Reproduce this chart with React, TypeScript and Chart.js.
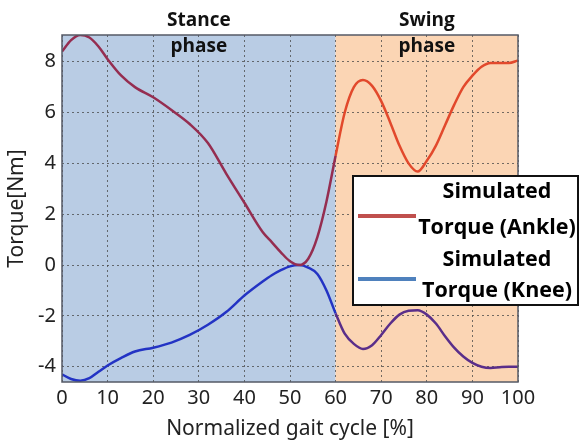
import React, { useEffect, useRef } from "react";
import { Chart, registerables } from "chart.js";

Chart.register(...registerables);

const gaitCycle = [0, 2, 4, 6, 8, 10, 13, 16, 20, 24, 28, 32, 36, 40, 44, 46, 48, 50, 52, 54, 56, 58, 60, 62, 64, 66, 68, 70, 72, 74, 76, 78, 80, 82, 84, 86, 88, 90, 92, 94, 96, 98, 100];
const ankleTorque = [8.4, 8.85, 9.05, 8.95, 8.6, 8.1, 7.45, 7.0, 6.6, 6.1, 5.55, 4.8, 3.6, 2.45, 1.3, 0.9, 0.5, 0.15, 0.0, 0.25, 1.1, 2.5, 4.3, 6.0, 7.0, 7.28, 7.05, 6.45, 5.6, 4.7, 4.0, 3.68, 4.1, 4.7, 5.5, 6.3, 7.0, 7.45, 7.8, 7.95, 7.95, 7.95, 8.05];
const kneeTorque = [-4.3, -4.48, -4.55, -4.45, -4.2, -3.95, -3.65, -3.4, -3.25, -3.05, -2.75, -2.35, -1.85, -1.2, -0.65, -0.4, -0.2, -0.05, 0.0, -0.1, -0.35, -1.0, -1.9, -2.7, -3.1, -3.3, -3.15, -2.75, -2.3, -1.95, -1.8, -1.78, -1.95, -2.3, -2.8, -3.25, -3.6, -3.85, -4.0, -4.05, -4.02, -4.0, -4.0];

const xTicks = [0, 10, 20, 30, 40, 50, 60, 70, 80, 90, 100];
const yTicks = [-4, -2, 0, 2, 4, 6, 8];
const phaseBoundary = 60;
const phaseLabels = [
  { from: 0, to: 60, lines: ["Stance", "phase"], color: "#b9cce4" },
  { from: 60, to: 100, lines: ["Swing", "phase"], color: "#fbd5b4" },
];
const legendItems = [
  { lines: ["Simulated", "Torque (Ankle)"], color: "#c0504d" },
  { lines: ["Simulated", "Torque (Knee)"], color: "#4f81bd" },
];

const FONT_AXIS = "'Noto Sans', sans-serif";
const FONT_BOLD = "'Open Sans', sans-serif";

const phasePlugin = {
  id: "phaseBg",
  beforeDraw(chart: any) {
    const { ctx, chartArea, scales } = chart;
    ctx.save();
    for (const p of phaseLabels) {
      const x0 = scales.x.getPixelForValue(p.from);
      const x1 = scales.x.getPixelForValue(p.to);
      ctx.fillStyle = p.color;
      ctx.fillRect(x0, chartArea.top, x1 - x0, chartArea.bottom - chartArea.top);
    }
    ctx.restore();
  },
  afterDatasetsDraw(chart: any) {
    const { ctx, chartArea } = chart;
    ctx.save();
    ctx.strokeStyle = "#555a66";
    ctx.lineWidth = 1.5;
    ctx.strokeRect(chartArea.left, chartArea.top, chartArea.right - chartArea.left, chartArea.bottom - chartArea.top);
    ctx.restore();
  },
  afterDraw(chart: any) {
    const { ctx, scales } = chart;
    ctx.save();
    ctx.fillStyle = "#111";
    ctx.font = `bold 19px ${FONT_BOLD}`;
    ctx.textAlign = "center";
    ctx.textBaseline = "middle";
    for (const p of phaseLabels) {
      const cx = scales.x.getPixelForValue((p.from + p.to) / 2);
      ctx.fillText(p.lines[0], cx, 21);
      ctx.fillText(p.lines[1], cx, 47);
    }
    const bx = 353, by = 176, bw = 225, bh = 129;
    ctx.fillStyle = "#fff";
    ctx.fillRect(bx, by, bw, bh);
    ctx.strokeStyle = "#111";
    ctx.lineWidth = 2;
    ctx.strokeRect(bx, by, bw, bh);
    const rows = [
      { ys: [192, 228], lineY: 216 },
      { ys: [260, 291], lineY: 279 },
    ];
    legendItems.forEach((item, i) => {
      ctx.strokeStyle = item.color;
      ctx.lineWidth = 4;
      ctx.beginPath();
      ctx.moveTo(358, rows[i].lineY);
      ctx.lineTo(416, rows[i].lineY);
      ctx.stroke();
      ctx.fillStyle = "#000";
      ctx.font = `bold 21.5px ${FONT_BOLD}`;
      ctx.textAlign = "center";
      ctx.fillText(item.lines[0], 497, rows[i].ys[0]);
      ctx.fillText(item.lines[1], 497, rows[i].ys[1]);
    });
    ctx.restore();
  },
};

export default function App() {
  const ref = useRef<HTMLCanvasElement>(null);
  useEffect(() => {
    if (!ref.current) return;
    const segColor = (stance: string, swing: string) => (c: any) =>
      c.p0.parsed.x >= phaseBoundary ? swing : stance;
    const chart = new Chart(ref.current, {
      type: "line",
      data: {
        labels: gaitCycle,
        datasets: [
          {
            label: "Simulated Torque (Ankle)",
            data: gaitCycle.map((x, i) => ({ x, y: ankleTorque[i] })),
            borderColor: "#952d50",
            borderWidth: 2.5,
            pointRadius: 0,
            tension: 0.4,
            cubicInterpolationMode: "monotone",
            segment: { borderColor: segColor("#952d50", "#e2492c") },
          },
          {
            label: "Simulated Torque (Knee)",
            data: gaitCycle.map((x, i) => ({ x, y: kneeTorque[i] })),
            borderColor: "#2333c4",
            borderWidth: 2.5,
            pointRadius: 0,
            tension: 0.4,
            cubicInterpolationMode: "monotone",
            segment: { borderColor: segColor("#2333c4", "#5a2e8a") },
          },
        ],
      },
      options: {
        responsive: false,
        animation: false,
        layout: { padding: { left: 0, top: 35, right: 61, bottom: 0 } },
        plugins: { legend: { display: false }, tooltip: { enabled: false } },
        scales: {
          x: {
            type: "linear",
            min: 0,
            max: 100,
            afterFit: (s: any) => { s.height = 59; },
            afterBuildTicks: (s: any) => { s.ticks = xTicks.map((v) => ({ value: v })); },
            grid: { color: "rgba(70,70,70,0.75)", lineWidth: 1, drawTicks: false },
            border: { display: false, dash: [2, 3] },
            ticks: { color: "#222", font: { family: FONT_AXIS, size: 20 }, padding: 4, maxRotation: 0 },
            title: { display: true, text: "Normalized gait cycle [%]", color: "#222", font: { family: FONT_AXIS, size: 21 }, padding: { top: 0, bottom: -1 } },
          },
          y: {
            type: "linear",
            min: -4.6,
            max: 9.05,
            afterFit: (s: any) => { s.width = 62; },
            afterBuildTicks: (s: any) => { s.ticks = yTicks.map((v) => ({ value: v })); },
            grid: { color: "rgba(70,70,70,0.75)", lineWidth: 1, drawTicks: false },
            border: { display: false, dash: [2, 3] },
            ticks: { color: "#222", font: { family: FONT_AXIS, size: 20 }, padding: 6 },
            title: { display: true, text: "Torque[Nm]", color: "#222", font: { family: FONT_AXIS, size: 21 }, padding: { top: 4, bottom: 0 } },
          },
        },
      },
      plugins: [phasePlugin],
    } as any);
    return () => chart.destroy();
  }, []);
  return (
    <div style={{ position: "absolute", left: 0, top: 0, width: 579, height: 441, background: "#fff" }}>
      <canvas ref={ref} width={579} height={441} />
    </div>
  );
}
